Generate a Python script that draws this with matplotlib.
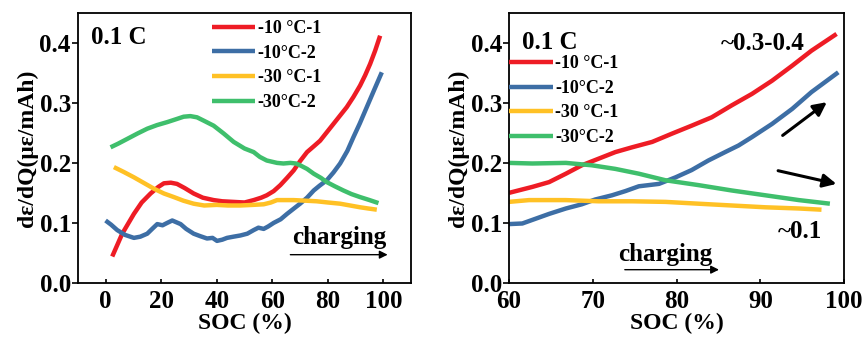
import numpy as np
import matplotlib
matplotlib.use("Agg")
import matplotlib.pyplot as plt

plt.rcParams['font.family'] = ['Liberation Serif', 'DejaVu Serif']
plt.rcParams['font.weight'] = 'bold'
plt.rcParams['axes.labelweight'] = 'bold'

labels = ['-10 \u00b0C-1', '-10\u00b0C-2', '-30 \u00b0C-1', '-30\u00b0C-2']
colors = ['#ee1c25', '#3d6ea5', '#ffc125', '#3fbf6c']

# left panel: full SOC range
soc_red_a = [2.4, 6, 10.2, 13, 16.2, 19, 21, 23.5, 25.7, 28.5, 31.7, 35, 38.9, 42, 46, 50, 53.3, 56, 58, 60.5, 62.9, 65.3, 67.7, 70, 72.5, 75, 77.2, 79.6, 82, 84.4, 86.8, 89.2, 91.6, 93.4, 95.2, 97, 98.8]
val_red_a = [0.044, 0.082, 0.115, 0.134, 0.149, 0.160, 0.166, 0.167, 0.165, 0.158, 0.149, 0.142, 0.138, 0.136, 0.135, 0.134, 0.138, 0.142, 0.146, 0.153, 0.163, 0.175, 0.1875, 0.203, 0.218, 0.228, 0.237, 0.251, 0.265, 0.279, 0.293, 0.310, 0.329, 0.346, 0.365, 0.387, 0.412]

soc_blue_a = [0, 2, 4.2, 7, 10.2, 12.5, 15, 17, 18.6, 20.5, 22.2, 24, 25.5, 27, 29, 31.7, 34, 36.5, 38.5, 40.1, 42, 43.7, 46, 48.5, 51, 53.3, 55, 56.9, 58.5, 60.5, 63, 65.3, 67.5, 70, 72.5, 74.9, 77, 79.6, 82, 84.4, 87, 89.2, 91.5, 94, 96.5, 99.4]
val_blue_a = [0.104, 0.097, 0.088, 0.080, 0.075, 0.077, 0.082, 0.091, 0.098, 0.096, 0.100, 0.104, 0.101, 0.098, 0.090, 0.082, 0.078, 0.074, 0.075, 0.070, 0.072, 0.075, 0.077, 0.079, 0.082, 0.088, 0.092, 0.090, 0.094, 0.100, 0.106, 0.115, 0.123, 0.132, 0.142, 0.154, 0.162, 0.171, 0.184, 0.199, 0.220, 0.243, 0.266, 0.293, 0.320, 0.351]

soc_yel_a = [3, 6.5, 10.2, 14, 17.4, 21, 24.6, 28, 31.7, 35.5, 40, 44, 48.5, 53, 56.9, 59.5, 61.7, 64.5, 67.7, 72, 76, 80, 84.4, 88, 91.6, 94.5, 97.6]
val_yel_a = [0.193, 0.185, 0.176, 0.166, 0.157, 0.149, 0.143, 0.137, 0.132, 0.129, 0.130, 0.129, 0.129, 0.130, 0.131, 0.134, 0.138, 0.138, 0.138, 0.137, 0.136, 0.134, 0.132, 0.129, 0.126, 0.124, 0.122]

soc_grn_a = [1.8, 4.5, 7.8, 11.5, 15, 18.5, 22.2, 25.5, 28.1, 30.5, 32.9, 35.5, 38.9, 42.5, 46.1, 50, 53.3, 55.5, 58, 61.7, 64, 66.5, 68.5, 70, 72.5, 74.9, 77.5, 79.6, 82.5, 85.6, 88.5, 91.6, 95, 98.2]
val_grn_a = [0.226, 0.232, 0.240, 0.249, 0.257, 0.263, 0.268, 0.273, 0.277, 0.278, 0.276, 0.270, 0.262, 0.249, 0.235, 0.224, 0.218, 0.210, 0.204, 0.200, 0.199, 0.200, 0.199, 0.196, 0.190, 0.182, 0.175, 0.168, 0.161, 0.154, 0.148, 0.143, 0.138, 0.133]

# right panel: zoom on 60-100 % SOC
soc_red_b = [60, 62.8, 64.8, 66.8, 68.7, 70.7, 72.7, 74.7, 77.1, 79.5, 81.8, 84.2, 86.6, 89, 91.4, 93.8, 96.1, 99.1]
val_red_b = [0.150, 0.160, 0.168, 0.182, 0.196, 0.207, 0.218, 0.226, 0.235, 0.249, 0.262, 0.276, 0.296, 0.315, 0.337, 0.362, 0.387, 0.415]

soc_blue_b = [60, 61.6, 63.2, 64.8, 66.8, 68.7, 70.3, 72.3, 73.9, 75.5, 77.9, 79.9, 81.8, 83.8, 85.8, 87.4, 89, 91.4, 93.8, 96.1, 99.3]
val_blue_b = [0.098, 0.099, 0.107, 0.115, 0.124, 0.131, 0.139, 0.146, 0.153, 0.161, 0.165, 0.176, 0.188, 0.204, 0.218, 0.229, 0.243, 0.265, 0.290, 0.318, 0.351]

soc_yel_b = [60, 62.4, 66.8, 70.7, 74.7, 78.7, 82.6, 86.6, 90.6, 94.6, 97.3]
val_yel_b = [0.135, 0.138, 0.138, 0.136, 0.136, 0.135, 0.132, 0.129, 0.126, 0.124, 0.122]

soc_grn_b = [60, 62.8, 66.8, 69.9, 72.7, 75.5, 78.7, 82.6, 86.6, 90.6, 94.6, 98.3]
val_grn_b = [0.200, 0.199, 0.200, 0.196, 0.190, 0.182, 0.171, 0.163, 0.154, 0.146, 0.138, 0.132]

fig = plt.figure(figsize=(8.64, 3.4), dpi=100)
ax1 = fig.add_axes([0.09, 0.168, 0.386, 0.794])
ax2 = fig.add_axes([0.589, 0.168, 0.388, 0.794])

left_data = [(soc_red_a, val_red_a), (soc_blue_a, val_blue_a), (soc_yel_a, val_yel_a), (soc_grn_a, val_grn_a)]
right_data = [(soc_red_b, val_red_b), (soc_blue_b, val_blue_b), (soc_yel_b, val_yel_b), (soc_grn_b, val_grn_b)]

for ax, data in [(ax1, left_data), (ax2, right_data)]:
    for (x, y), c, lab in zip(data, colors, labels):
        ax.plot(x, y, color=c, lw=3.2, label=lab, solid_capstyle='butt')
    ax.set_ylim(0, 0.45)
    ax.set_yticks([0, 0.1, 0.2, 0.3, 0.4])
    ax.set_yticklabels(['0.0', '0.1', '0.2', '0.3', '0.4'])
    ax.tick_params(axis='y', direction='out', labelsize=18, width=1.2, length=4, pad=1)
    ax.tick_params(axis='x', direction='in', labelsize=18, width=1.2, length=3, pad=5)
    for s in ax.spines.values():
        s.set_linewidth(1.3)
    ax.set_xlabel('SOC (%)', fontsize=17, labelpad=0)
    ax.set_ylabel('d\u03b5/dQ(\u03bc\u03b5/mAh)', fontsize=17, labelpad=1)

ax1.set_xlim(-10, 110)
ax1.set_xticks([0, 20, 40, 60, 80, 100])
ax2.set_xlim(60, 100)
ax2.set_xticks([60, 70, 80, 90, 100])

ax1.text(0.04, 0.91, '0.1 C', transform=ax1.transAxes, fontsize=18, va='center')
ax2.text(0.04, 0.89, '0.1 C', transform=ax2.transAxes, fontsize=18, va='center')

ax1.legend(loc='upper left', bbox_to_anchor=(0.38, 1.0), frameon=False, fontsize=13,
           handlelength=2.4, handletextpad=0.15, labelspacing=0.42, borderaxespad=0)
ax2.legend(loc='upper left', bbox_to_anchor=(-0.02, 0.87), frameon=False, fontsize=13,
           handlelength=2.4, handletextpad=0.15, labelspacing=0.42, borderaxespad=0)

# charging arrows
ax1.text(84, 0.076, 'charging', fontsize=18, ha='center', va='center')
ax1.annotate('', xy=(102.5, 0.047), xytext=(65.5, 0.047),
             arrowprops=dict(arrowstyle='-|>', color='black', lw=1.0, mutation_scale=12))
ax2.text(78.7, 0.048, 'charging', fontsize=18, ha='center', va='center')
ax2.annotate('', xy=(85.4, 0.022), xytext=(73.5, 0.022),
             arrowprops=dict(arrowstyle='-|>', color='black', lw=1.0, mutation_scale=12))

ax2.text(90.3, 0.399, '~0.3-0.4', fontsize=18, ha='center', va='center')
ax2.text(94.7, 0.085, '~0.1', fontsize=18, ha='center', va='center')
ax2.annotate('', xy=(98.2, 0.304), xytext=(92.4, 0.243),
             arrowprops=dict(arrowstyle='-|>', color='black', lw=2.2, mutation_scale=20))
ax2.annotate('', xy=(99.4, 0.164), xytext=(91.8, 0.188),
             arrowprops=dict(arrowstyle='-|>', color='black', lw=2.2, mutation_scale=20))

fig.savefig('out.png', dpi=100)
